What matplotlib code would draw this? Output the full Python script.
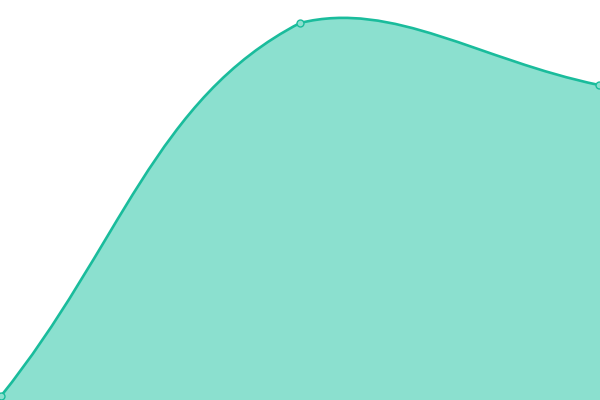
import matplotlib
matplotlib.use("Agg")
import matplotlib.pyplot as plt
import numpy as np
from matplotlib.path import Path
from matplotlib.patches import PathPatch

# Three points of a smooth area series
X_VALUES = [0, 1, 2]
Y_VALUES = [4, 377, 315]

LINE_COLOR = "#1abc9c"
FILL_COLOR = "#8be0cf"
TENSION = 0.4


def spline_controls(pts, tension, bounds):
    """Chart.js-style control points (computed in pixel space, capped to the area)."""
    n = len(pts)
    ctrl = []
    for i in range(n):
        prev = pts[max(i - 1, 0)]
        cur = pts[i]
        nxt = pts[min(i + 1, n - 1)]
        d01 = np.hypot(*(cur - prev))
        d12 = np.hypot(*(nxt - cur))
        tot = d01 + d12
        s01 = d01 / tot if tot else 0.0
        s12 = d12 / tot if tot else 0.0
        fa = tension * s01
        fb = tension * s12
        cp_prev = cur - fa * (nxt - prev)
        cp_next = cur + fb * (nxt - prev)
        (x0, y0), (x1, y1) = bounds
        cp_prev = np.clip(cp_prev, [x0, y0], [x1, y1])
        cp_next = np.clip(cp_next, [x0, y0], [x1, y1])
        ctrl.append((cp_prev, cp_next))
    return ctrl


fig = plt.figure(figsize=(6, 4), dpi=100)
ax = fig.add_axes([0, 0, 1, 1])
ax.set_xlim(-0.00334, 2.00334)
ax.set_ylim(0, 400)
ax.axis("off")
fig.canvas.draw()

pts = ax.transData.transform(np.column_stack([X_VALUES, Y_VALUES]))
bbox = ax.bbox
ctrl = spline_controls(pts, TENSION, ((bbox.x0, bbox.y0), (bbox.x1, bbox.y1)))

verts = [pts[0]]
codes = [Path.MOVETO]
for i in range(len(pts) - 1):
    verts += [ctrl[i][1], ctrl[i + 1][0], pts[i + 1]]
    codes += [Path.CURVE4] * 3
inv = ax.transData.inverted()
curve = inv.transform(np.array(verts))

line_path = Path(curve, codes)
right = ax.get_xlim()[1]
fill_verts = np.vstack([curve, [[right, Y_VALUES[-1]], [right, 0], [X_VALUES[0], 0], curve[0]]])
fill_codes = codes + [Path.LINETO, Path.LINETO, Path.LINETO, Path.CLOSEPOLY]
fill_path = Path(fill_verts, fill_codes)

ax.add_patch(PathPatch(fill_path, facecolor=FILL_COLOR, edgecolor="none"))
ax.add_patch(PathPatch(line_path, facecolor="none", edgecolor=LINE_COLOR, linewidth=1.9))
ax.plot(X_VALUES, Y_VALUES, "o", markersize=5, markerfacecolor=FILL_COLOR,
        markeredgecolor=LINE_COLOR, markeredgewidth=1, clip_on=False)

fig.savefig("out.png", dpi=100)
